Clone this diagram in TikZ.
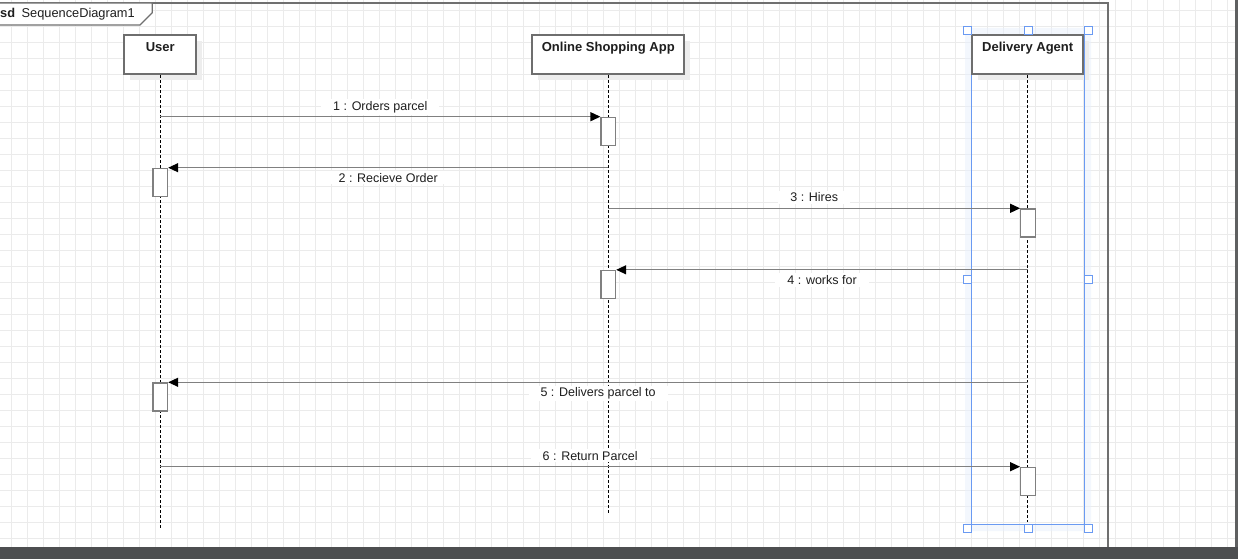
\documentclass[tikz,border=0pt]{standalone}
\usepackage{fontspec}
\setmainfont{Liberation Sans}
\usetikzlibrary{arrows.meta,shadows}
\definecolor{gridgray}{HTML}{EBEBEB}
\definecolor{framegray}{HTML}{707070}
\definecolor{boxgray}{HTML}{6E6E6E}
\definecolor{msggray}{HTML}{808080}
\definecolor{selblue}{HTML}{6A9AF2}
\definecolor{bargray}{HTML}{4D4E50}
\definecolor{labeltext}{HTML}{1E1E1E}

\begin{document}
\begin{tikzpicture}[x=1pt, y=-1pt,
    headbox/.style={draw=boxgray, line width=2pt, fill=white, inner xsep=2pt, inner ysep=0pt,
        text height=16.4pt, text depth=22.6pt, text=labeltext,
        font=\bfseries\fontsize{13}{15}\selectfont,
        drop shadow={shadow xshift=6pt, shadow yshift=-6pt, fill=black!7, opacity=1}},
    lifeline/.style={black, line width=1pt, dash pattern=on 3pt off 2pt},
    activation/.style={draw=msggray, line width=1.3pt, fill=white, inner sep=0pt,
        minimum width=14.5pt, minimum height=28pt, anchor=north},
    message/.style={draw=msggray, line width=1.3pt,
        -{Triangle[length=10pt, width=9pt, color=black]}},
    msglabel/.style={fill=white, text=labeltext, inner xsep=12pt, inner ysep=2pt,
        anchor=base, font=\fontsize{12.5}{15}\selectfont},
    gridline/.style={gridgray, line width=1.3pt},
    selline/.style={selblue, line width=1.3pt},
    handle/.style={draw=selblue, line width=1pt, fill=white}]
    \useasboundingbox (0,0) rectangle (1238,559);
    \fill[white] (0,0) rectangle (1238,559);

    % grid
    \foreach \gx in {11.7,27.7,...,1235}
        \draw[gridline] (\gx,0) -- (\gx,547);
    \foreach \gy in {10.7,26.7,...,547}
        \draw[gridline] (0,\gy) -- (1238,\gy);

    % frame
    \draw[framegray, line width=2pt] (-2,3) -- (1107.7,3) -- (1107.7,548);
    \draw[framegray, line width=1.3pt, fill=white]
        (-2,3) -- (152.3,3) -- (152.3,12.7) -- (140,25) -- (-2,25) -- cycle;
    \node[anchor=base west, inner sep=0pt, text=labeltext, font=\fontsize{12.8}{15}\selectfont]
        (framelabel) at (0,17.3) {\textbf{sd}\hspace{6.5pt}SequenceDiagram1};

    % selection
    \fill[selblue!15, opacity=0.5, even odd rule]
        (965,28) rectangle (1091,531) (971.7,34.3) rectangle (1084.6,524.3);
    \draw[selline] (971.7,34.3) rectangle (1084.6,524.3);

    % lifelines
    \node[headbox, minimum width=72pt] (user) at (160.3,54.8) {User};
    \node[headbox, minimum width=152pt] (app) at (608.3,54.8) {Online Shopping App};
    \node[headbox, minimum width=111.3pt] (agent) at (1027.7,54.8) {Delivery Agent};
    \draw[selline] (1084.6,34.3) -- (1084.6,100);

    \coordinate (userend) at (160.3,528.3);
    \coordinate (append) at (608.3,514.3);
    \coordinate (agentend) at (1027.7,522);
    \draw[lifeline] (user.south) -- (userend);
    \draw[lifeline] (app.south) -- (append);
    \draw[lifeline] (agent.south) -- (agentend);

    % activations
    \node[activation] (act1) at (608.3,116.7) {};
    \node[activation] (act2) at (160.3,167.7) {};
    \node[activation] (act3) at (1028,208.3) {};
    \node[activation] (act4) at (608.3,269.8) {};
    \node[activation] (act5) at (160.3,382.3) {};
    \node[activation] (act6) at (1028,466.7) {};

    % messages
    \coordinate (m1) at (160.3,116.7);
    \coordinate (m2) at (608.3,167.7);
    \coordinate (m3) at (608.3,208.3);
    \coordinate (m4) at (1028,269.8);
    \coordinate (m5) at (1028,382.3);
    \coordinate (m6) at (160.3,466.7);
    \draw[message] (m1) -- (act1.north west)
        node[msglabel, midway, yshift=6.6pt] {1 : Orders parcel};
    \draw[message] (m2) -- (act2.north east)
        node[msglabel, midway, yshift=-14.6pt] {2 : Recieve Order};
    \draw[message] (m3) -- (act3.north west)
        node[msglabel, midway, yshift=6.6pt] {3 : Hires};
    \draw[message] (m4) -- (act4.north east)
        node[msglabel, midway, yshift=-14.6pt] {4 : works for};
    \draw[message] (m5) -- (act5.north east)
        node[msglabel, midway, yshift=-14.6pt] {5 : Delivers parcel to};
    \draw[message] (m6) -- (act6.north west)
        node[msglabel, midway, yshift=6.6pt] {6 : Return Parcel};

    % selection handles
    \foreach \hx/\hy in {967.5/30.5, 1028.3/30.5, 1088.5/30.5, 967.5/279, 1088.5/279,
        967.5/528.3, 1028.3/528.3, 1088.5/528.3}
        \draw[handle] (\hx-4,\hy-4) rectangle (\hx+4,\hy+4);

    % window edges
    \fill[bargray] (0,546.7) rectangle (1238,559);
    \fill[bargray!90!white] (1235,0) rectangle (1238,546.7);
\end{tikzpicture}
\end{document}
